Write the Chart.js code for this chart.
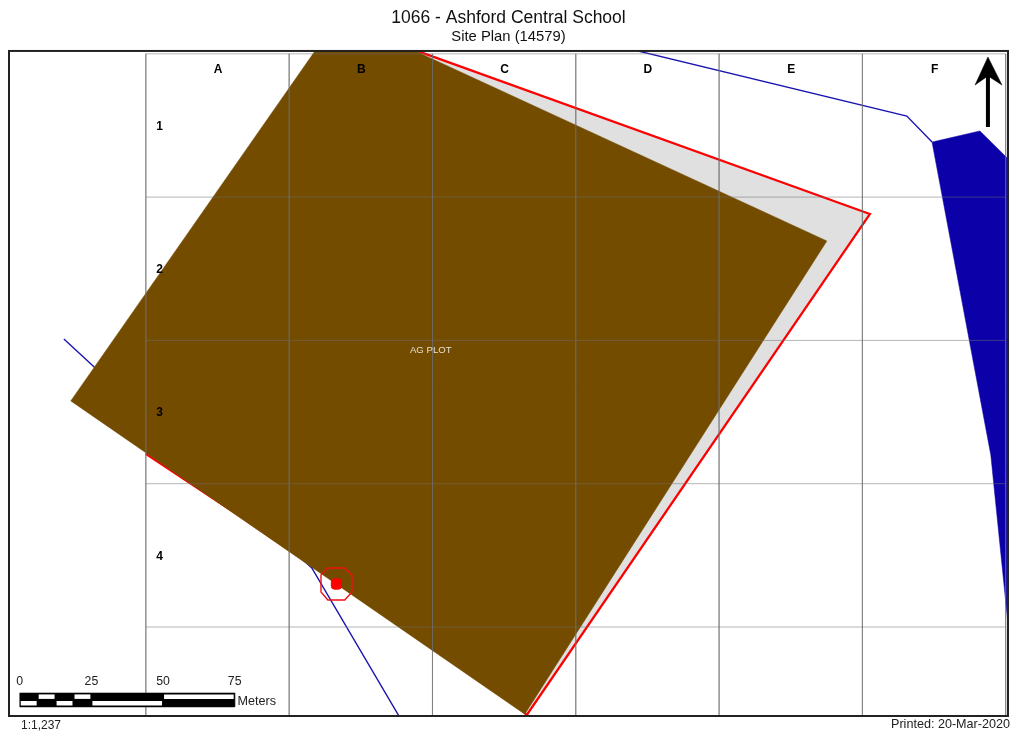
<!DOCTYPE html>
<html>
<head>
<meta charset="utf-8">
<title>1066 - Ashford Central School</title>
<script src="https://cdn.jsdelivr.net/npm/chart.js@4"></script>
<style>
    html, body { margin: 0; padding: 0; background: #fff; }
    canvas { display: block; }
</style>
</head>
<body>
<canvas id="sitePlan" width="1010" height="733"></canvas>
<script>
// ========== MAP DATA (metres from the south-west grid corner) ==========

const gridEastings = [0, 50, 100, 150, 200, 250, 300];
const gridNorthings = [0, 50, 100, 150, 200];
const columnLabels = ['A', 'B', 'C', 'D', 'E', 'F'];
const columnCentres = [25, 75, 125, 175, 225, 275];
const rowLabels = ['1', '2', '3', '4'];
const rowCentres = [175, 125, 75, 25];

const agPlot = [[-26.2, 78.9], [59, 201], [93.9, 201], [237.6, 134.7], [132.2, -30.4]];
const siteBoundary = [[93.9, 201.3], [252.6, 144.1], [132.9, -30.7], [130, -27.8], [33, 38.5], [0.3, 60.2]];
const waterBody = [[274.3, 169.2], [291, 173.1], [300.9, 163.3], [300.9, 0], [294.8, 60]];
const westRoad = [[-28.6, 100.5], [57.9, 20.6], [88.5, -31.4]];
const northRoad = [[169.6, 201.5], [265.5, 178.3], [274.3, 169.2]];

const buildingPoint = [[66.5, 15]];
const buildingRing = [[63.5, 20.6], [69.4, 20.6], [71.9, 18.1], [71.9, 12.2], [69.4, 9.4], [63.5, 9.4], [61.1, 12.2], [61.1, 18.1]];

const northHead = [[293.8, 198.9], [289.3, 189.1], [293.8, 192.3], [298.7, 189.1]];
const northShaft = [[293.8, 192.3], [293.8, 174.5]];

const scaleTicks = [0, 25, 50, 75];
const scaleStops = [0, 6.25, 12.5, 18.75, 25, 50, 75];
const scaleOrigin = -44;
const scaleTop = -23;
const scaleBottom = -27.9;
const scaleUpperRow = -24.3;
const scaleLowerRow = -26.6;

const mapTitle = '1066 - Ashford Central School';
const mapSubtitle = 'Site Plan (14579)';
const plotLabel = 'AG PLOT';
const scaleUnit = 'Meters';
const scaleText = '1:1,237';
const printedText = 'Printed: 20-Mar-2020';


// ========== DATASET HELPERS ==========

function toPoints(pairs) {
    return pairs.map(p => ({ x: p[0], y: p[1] }));
}

function lineSet(pairs, color, width) {
    return {
        data: toPoints(pairs),
        showLine: true,
        fill: false,
        pointRadius: 0,
        borderColor: color,
        borderWidth: width,
        borderJoinStyle: 'miter',
        tension: 0
    };
}

function shapeSet(pairs, fillColor, lineColor, width) {
    const closed = pairs.concat([pairs[0]]);
    return Object.assign(lineSet(closed, lineColor, width), {
        fill: 'shape',
        backgroundColor: fillColor
    });
}

function buildDatasets() {
    const sets = [];

    sets.push(lineSet(westRoad, '#1a14b0', 1.4));
    sets.push(lineSet(northRoad, '#1a14b0', 1.4));
    sets.push(shapeSet(waterBody, '#0c00a8', '#0c00a8', 0.5));
    sets.push(shapeSet(siteBoundary, '#e0e0e0', '#ff0000', 2.3));
    sets.push(shapeSet(agPlot, '#744c00', '#744c00', 0.5));

    // Grid sits on top of the polygons
    gridEastings.forEach(e => {
        sets.push(lineSet([[e, 200], [e, -32]], 'rgba(110,110,110,0.5)', 1));
    });
    gridNorthings.forEach(n => {
        sets.push(lineSet([[0, n], [300, n]], 'rgba(110,110,110,0.5)', 1));
    });

    sets.push(lineSet(buildingRing.concat([buildingRing[0]]), '#ee1111', 1.4));
    sets.push({
        data: toPoints(buildingPoint),
        showLine: false,
        pointStyle: 'rectRounded',
        pointRadius: 6,
        pointBackgroundColor: '#ff0000',
        pointBorderColor: '#ff0000'
    });

    sets.push(shapeSet(northHead, '#000000', '#000000', 0.5));
    sets.push(lineSet(northShaft, '#000000', 4));

    // Scale bar: black block, then white cells in alternating rows
    const blockLeft = scaleOrigin;
    const blockRight = scaleOrigin + scaleStops[scaleStops.length - 1];
    sets.push(shapeSet(
        [[blockLeft, scaleTop], [blockRight, scaleTop], [blockRight, scaleBottom], [blockLeft, scaleBottom]],
        '#000000', '#000000', 0.5
    ));
    for (let i = 0; i < scaleStops.length - 1; i++) {
        const row = i % 2 === 0 ? scaleLowerRow : scaleUpperRow;
        const from = scaleOrigin + scaleStops[i] + 0.35;
        const to = scaleOrigin + scaleStops[i + 1] - 0.35;
        sets.push(lineSet([[from, row], [to, row]], '#ffffff', 4.5));
    }

    // Chart.js paints the first dataset last
    return sets.reverse();
}


// ========== TEXT AND FRAME ==========

const mapFurniture = {
    id: 'mapFurniture',
    afterDatasetsDraw(chart) {
        const ctx = chart.ctx;
        const sx = chart.scales.x;
        const sy = chart.scales.y;
        const area = chart.chartArea;

        function put(text, x, y, font, color, align) {
            ctx.font = font;
            ctx.fillStyle = color;
            ctx.textAlign = align || 'center';
            ctx.textBaseline = 'middle';
            ctx.fillText(text, x, y);
        }

        ctx.save();

        columnLabels.forEach((label, i) => {
            put(label, sx.getPixelForValue(columnCentres[i]) + 0.5, sy.getPixelForValue(194.6), 'bold 12px "Liberation Sans"', '#000');
        });
        rowLabels.forEach((label, i) => {
            put(label, sx.getPixelForValue(4.8), sy.getPixelForValue(rowCentres[i] - 0.35), 'bold 12px "Liberation Sans"', '#000');
        });

        put(plotLabel, sx.getPixelForValue(99.4), sy.getPixelForValue(96.6), '9.6px "Liberation Sans"', '#e6e0d0');

        scaleTicks.forEach(tick => {
            put(String(tick), sx.getPixelForValue(scaleOrigin + tick), sy.getPixelForValue(-19.2), '12.3px "Liberation Sans"', '#222');
        });
        put(scaleUnit, sx.getPixelForValue(scaleOrigin + 76), sy.getPixelForValue(-26), '12.6px "Liberation Sans"', '#222', 'left');

        ctx.strokeStyle = '#222';
        ctx.lineWidth = 2;
        ctx.strokeRect(area.left, area.top, area.right - area.left, area.bottom - area.top);

        put(scaleText, 21, 726, '12px "Liberation Sans"', '#222', 'left');
        put(printedText, 1010, 725, '12.6px "Liberation Sans"', '#222', 'right');

        ctx.restore();
    }
};


// ========== CHART ==========

new Chart(document.getElementById('sitePlan'), {
    type: 'scatter',
    data: { datasets: buildDatasets() },
    plugins: [mapFurniture],
    options: {
        responsive: false,
        animation: false,
        devicePixelRatio: 1,
        layout: { autoPadding: false, padding: { left: 9, right: 2, top: 0, bottom: 17 } },
        scales: {
            x: { type: 'linear', display: false, min: -47.75, max: 300.8 },
            y: { type: 'linear', display: false, min: -31.05, max: 201 }
        },
        plugins: {
            legend: { display: false },
            tooltip: { enabled: false },
            title: {
                display: true,
                text: mapTitle,
                color: '#111',
                font: { family: '"Liberation Sans"', size: 17.5, weight: 'normal', lineHeight: 1.2 },
                padding: { top: 7.5, bottom: 0 }
            },
            subtitle: {
                display: true,
                text: mapSubtitle,
                color: '#111',
                font: { family: '"Liberation Sans"', size: 14.8, weight: 'normal', lineHeight: 1.2 },
                padding: { top: 0, bottom: 4.7 }
            }
        }
    }
});
</script>
</body>
</html>
